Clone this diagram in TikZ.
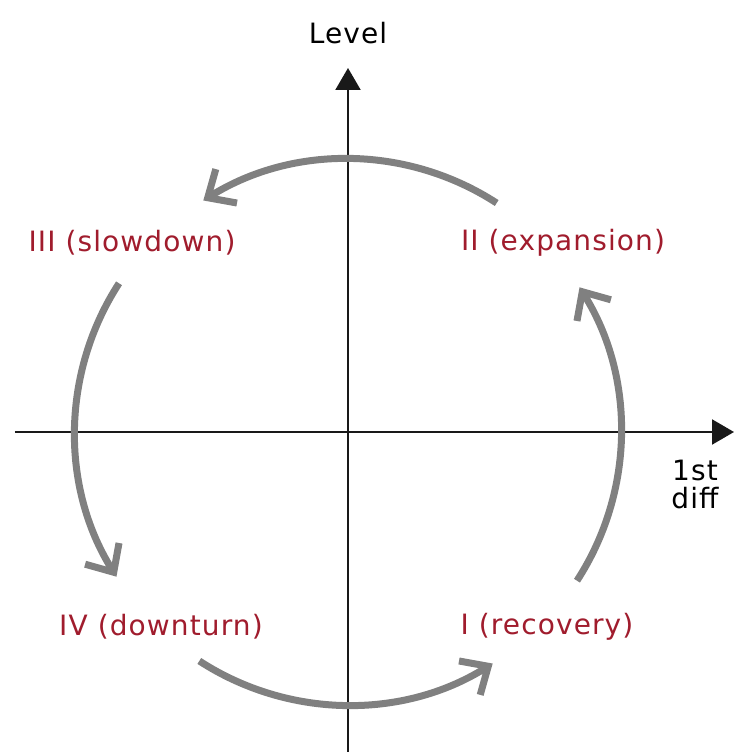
\documentclass[tikz,border=0pt]{standalone}
\usepackage{fontspec}
\setmainfont{DejaVu Sans}
\newfontfamily\lblfont[LetterSpace=4]{DejaVu Sans}
\usetikzlibrary{arrows.meta}
\definecolor{phase}{RGB}{160,28,45}
\definecolor{arcgray}{RGB}{128,128,128}
\definecolor{axisc}{RGB}{25,25,25}
\begin{document}
\begin{tikzpicture}[x=1pt,y=1pt,
  axis/.style={draw=axisc,line width=2.2pt,-{Triangle[length=22pt,width=25pt]}},
  cyc/.style={draw=arcgray,line width=7pt,-{Straight Barb[length=22pt,width=40pt]}},
  phaselbl/.style={text=phase,font=\lblfont\fontsize{28}{30}\selectfont,inner sep=0pt},
  axlbl/.style={text=black,font=\lblfont\fontsize{28}{30}\selectfont,inner sep=0pt,align=center}]
\useasboundingbox (-348,-320) rectangle (386,432);
\coordinate (o) at (0,0);
\coordinate (xs) at (-333,0);
\coordinate (xe) at (386,0);
\coordinate (ys) at (0,-320);
\coordinate (ye) at (0,364);
\draw[axis] (xs) -- (xe);
\draw[axis] (ys) -- (ye);
% cycle arcs, radius 273
\draw[cyc] (57:273) arc[start angle=57,end angle=122,radius=273];
\draw[cyc] (147:273) arc[start angle=147,end angle=212,radius=273];
\draw[cyc] (237:273) arc[start angle=237,end angle=302,radius=273];
\draw[cyc] (-33:273) arc[start angle=-33,end angle=32,radius=273];
\node[phaselbl] (p3) at (-216,189) {III (slowdown)};
\node[phaselbl] (p2) at (215,189) {II (expansion)};
\node[phaselbl] (p4) at (-187,-195) {IV (downturn)};
\node[phaselbl] (p1) at (199,-195) {I (recovery)};
\node[axlbl] (lv) at (0,399) {Level};
\node[axlbl] (fd) at (347,-52) {1st\\[-2pt]diff};
\end{tikzpicture}
\end{document}
